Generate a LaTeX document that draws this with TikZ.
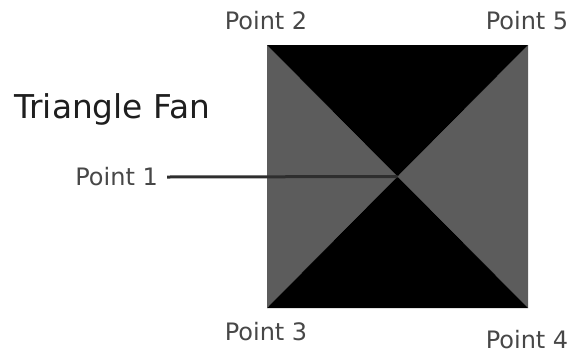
\documentclass[tikz,border=0pt]{standalone}
\usepackage{fontspec}
\setmainfont{DejaVu Sans}
\definecolor{fangray}{HTML}{5C5C5C}
\definecolor{labelgray}{HTML}{474747}
\definecolor{titlegray}{HTML}{1E1E1E}
\definecolor{leadgray}{HTML}{2E2E2E}
\begin{document}
\begin{tikzpicture}[x=1pt,y=-1pt,
  ptlabel/.style={inner sep=0pt, text=labelgray, font=\fontsize{24}{27}\selectfont},
  title/.style={inner sep=0pt, text=titlegray, font=\fontsize{32.8}{38}\selectfont},
  lead/.style={draw=leadgray, line width=3pt}]
  \useasboundingbox (0,0) rectangle (577,354);
  % corners of the square and the shared fan centre
  \coordinate (c2) at (267,45);
  \coordinate (c5) at (528,45);
  \coordinate (c4) at (528,308);
  \coordinate (c3) at (267,308);
  \coordinate (ctr) at (397.5,176.5);
  % fan triangles
  \fill[fangray] (c2) -- (ctr) -- (c3) -- cycle;
  \fill[fangray] (c5) -- (ctr) -- (c4) -- cycle;
  \fill[black] (c2) -- (c5) -- (ctr) -- cycle;
  \fill[black] (c3) -- (c4) -- (ctr) -- cycle;
  % labels
  \node[title, anchor=west] (ttl) at (14,109) {Triangle Fan};
  \node[ptlabel] (p2) at (266,21) {Point 2};
  \node[ptlabel] (p5) at (527,21) {Point 5};
  \node[ptlabel] (p3) at (266,332) {Point 3};
  \node[ptlabel] (p4) at (527,340) {Point 4};
  \node[ptlabel, anchor=east] (p1) at (158,177) {Point 1};
  % leader from Point 1 to the centre vertex
  \draw[lead] ([xshift=9pt]p1.east) -- (ctr);
\end{tikzpicture}
\end{document}
